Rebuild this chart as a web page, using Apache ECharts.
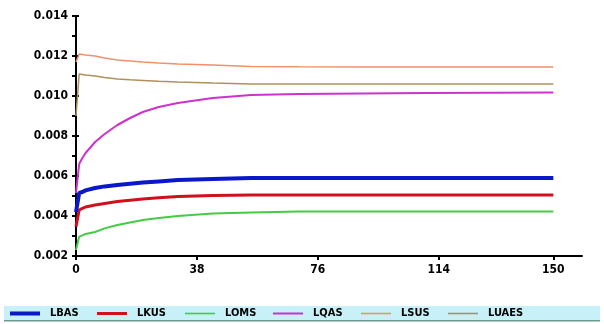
<!DOCTYPE html>
<html>
<head>
<meta charset="utf-8">
<script src="https://cdn.jsdelivr.net/npm/echarts@6/dist/echarts.min.js"></script>
<style>
html,body{margin:0;padding:0;background:#fff;}
#c{width:604px;height:324px;}
</style>
</head>
<body>
<div id="c"></div>
<script>
var steps = [0, 1, 2, 3, 6, 9, 13, 17, 21, 26, 32, 43, 55, 70, 90, 110, 130, 150];
var LBAS  = [0.0042, 0.00515, 0.0052, 0.00528, 0.0054, 0.00548, 0.00555, 0.00561, 0.00567, 0.00573, 0.0058, 0.00585, 0.0059, 0.0059, 0.0059, 0.0059, 0.0059, 0.0059];
var LKUS  = [0.00347, 0.0043, 0.00438, 0.00445, 0.00455, 0.00463, 0.00472, 0.00479, 0.00485, 0.00491, 0.00497, 0.00502, 0.00505, 0.00505, 0.00505, 0.00505, 0.00505, 0.00505];
var LOMS  = [0.0023, 0.00297, 0.00303, 0.0031, 0.0032, 0.00338, 0.00355, 0.00368, 0.0038, 0.0039, 0.004, 0.00412, 0.00418, 0.00422, 0.00422, 0.00422, 0.00422, 0.00422];
var LQAS  = [0.00515, 0.0066, 0.0069, 0.00715, 0.0077, 0.0081, 0.00855, 0.0089, 0.0092, 0.00945, 0.00965, 0.0099, 0.01005, 0.0101, 0.01013, 0.01015, 0.01016, 0.01017];
var LSUS  = [0.0117, 0.0121, 0.01208, 0.01205, 0.012, 0.0119, 0.0118, 0.01175, 0.0117, 0.01165, 0.0116, 0.01155, 0.01148, 0.01146, 0.01145, 0.01145, 0.01145, 0.01145];
var LUAES = [0.009, 0.0111, 0.01108, 0.01105, 0.011, 0.01092, 0.01085, 0.01081, 0.01078, 0.01074, 0.0107, 0.01065, 0.0106, 0.0106, 0.0106, 0.0106, 0.0106, 0.0106];
var xTicks = [0, 38, 76, 114, 150];
var seriesNames = ['LBAS', 'LKUS', 'LOMS', 'LQAS', 'LSUS', 'LUAES'];
var seriesData = [LBAS, LKUS, LOMS, LQAS, LSUS, LUAES];
var colors = ['#0a18c8', '#d0101c', '#44cc44', '#cc33cc', '#f0906c', '#b0905c'];
var widths = [4, 3, 2, 2, 1.5, 1.5];
var legendLeft = [10, 97, 185, 273, 361, 448];
var legendIcons = [
  'path://M0,0L30,0L30,4L0,4Z',
  'path://M0,0M0,4M0,0.5L30,0.5L30,3.5L0,3.5Z',
  'path://M0,0M0,4M0,1.2L30,1.2L30,2.8L0,2.8Z',
  'path://M0,0M0,4M0,1L30,1L30,3L0,3Z',
  'path://M0,0M0,4M0,1.2L30,1.2L30,2.8L0,2.8Z',
  'path://M0,0M0,4M0,1.2L30,1.2L30,2.8L0,2.8Z'
];

function pairs(arr){ return steps.map(function(s,i){ return [s, arr[i]]; }); }

var FONT = "'Liberation Sans Narrow','DejaVu Sans Condensed','Liberation Sans',Arial,sans-serif";

var chart = echarts.init(document.getElementById('c'), null, {renderer:'canvas'});
var option = {
  animation: false,
  backgroundColor: '#ffffff',
  graphic: [
    {type:'rect', left:4, top:306, shape:{width:596, height:15}, style:{fill:'#c8f0f8'}, z:-1},
    {type:'rect', left:4, top:320, shape:{width:596, height:1.5}, style:{fill:'#6a9a90'}, z:-1}
  ],
  grid: {left: 76, right: 22, top: 16, bottom: 68, containLabel: false},
  xAxis: {
    type: 'value', min: 0, max: 159,
    axisLine: {show:true, lineStyle:{color:'#000', width:2}},
    axisTick: {show:true, customValues: xTicks, length: 4, lineStyle:{color:'#000', width:2}},
    axisLabel: {customValues: xTicks, color:'#000', fontWeight:'bold', fontSize:12, fontFamily: FONT, margin: 8},
    splitLine: {show:false}
  },
  yAxis: [{
    type: 'value', min: 0.002, max: 0.014, interval: 0.002,
    axisLine: {show:true, lineStyle:{color:'#000', width:2}},
    axisTick: {show:true, length: 4, lineStyle:{color:'#000', width:2}},
    minorTick: {show:true, splitNumber: 2, length: 4, lineStyle:{color:'#000', width:2}},
    axisLabel: {color:'#000', fontWeight:'bold', fontSize:12, fontFamily: FONT, margin: 8,
      formatter: function(v){ return v.toFixed(3); }},
    splitLine: {show:false}
  },{
    type: 'value', min: 0.002, max: 0.014, interval: 0.002, position:'left',
    axisLine: {show:false},
    axisTick: {show:true, inside:true, length: 3, lineStyle:{color:'#000', width:2}},
    minorTick: {show:false},
    axisLabel: {show:false},
    splitLine: {show:false}
  }],
  legend: seriesNames.map(function(n,i){
    return {
      left: legendLeft[i], top: 308, padding: 0, itemWidth: 30, itemHeight: 4,
      textStyle: {color:'#000', fontWeight:'bold', fontSize:11, fontFamily: FONT, padding:[0,0,0,5]},
      data: [{name:n, icon: legendIcons[i], itemStyle:{color:colors[i]}}]
    };
  }),
  series: seriesNames.map(function(n,i){
    return {
      name: n, type: 'line', data: pairs(seriesData[i]),
      showSymbol: false, symbol: 'none',
      lineStyle: {color: colors[i], width: widths[i]},
      itemStyle: {color: colors[i]},
      z: 10 - i
    };
  })
};
chart.setOption(option);
</script>
</body>
</html>
